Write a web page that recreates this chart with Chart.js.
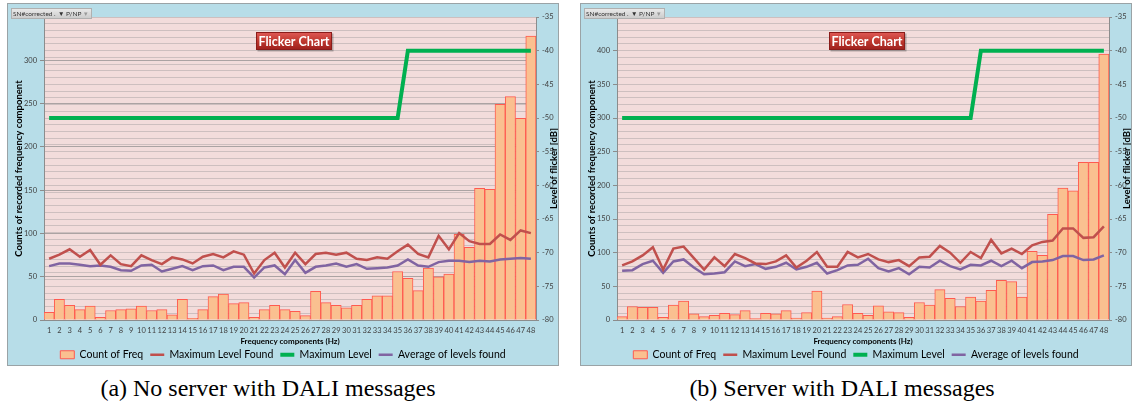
<!DOCTYPE html>
<html>
<head>
<meta charset="utf-8">
<script src="https://cdn.jsdelivr.net/npm/chart.js@4"></script>
<style>
  body { margin: 0; background: #fff; width: 1132px; height: 410px; position: relative; overflow: hidden; }
  .box { position: absolute; top: 4px; width: 550px; height: 361px; background: #b7dde8; outline: 1px solid #9aa3a6; }
  canvas { position: absolute; top: 4px; }
  .cap { position: absolute; top: 376px; font-family: "Liberation Serif", serif; font-size: 24px; line-height: 1; white-space: nowrap; transform: translateX(-50%); }
</style>
</head>
<body>
<div class="box" style="left:8px"></div>
<div class="box" style="left:581px"></div>
<canvas id="chartA" width="550" height="366" style="left:8px"></canvas>
<canvas id="chartB" width="550" height="366" style="left:581px"></canvas>
<div class="cap" style="left:268px">(a) No server with DALI messages</div>
<div class="cap" style="left:842px">(b) Server with DALI messages</div>
<script>
const freqLabels = ["1","2","3","4","5","6","7","8","9","10","11","12","13","14","15","16","17","18","19","20","21","22","23","24",
  "25","26","27","28","29","30","31","32","33","34","35","36","37","38","39","40","41","42","43","44","45","46","47","48"];

// limit line, same in both charts (dB)
const maxLevel = [-50,-50,-50,-50,-50,-50,-50,-50,-50,-50,-50,-50,-50,-50,-50,-50,-50,-50,-50,-50,-50,-50,-50,-50,
  -50,-50,-50,-50,-50,-50,-50,-50,-50,-50,-50,-40,-40,-40,-40,-40,-40,-40,-40,-40,-40,-40,-40,-40];

// (a) no server
const countA = [9,24,17,12,16,3,11,12,13,16,11,12,6,24,2,12,27,30,19,20,3,12,17,
  12,10,5,33,20,17,14,17,24,28,28,56,48,34,60,50,53,99,84,152,151,249,258,233,328];
const maxFoundA = [-70.9,-70.3,-69.5,-70.6,-69.6,-71.8,-70.4,-71.7,-72.0,-70.4,-71.1,-71.7,-70.7,-71.0,-71.6,-70.6,-70.2,-70.7,-69.8,-70.3,-73.1,-71.1,-70.0,
  -72.2,-70.0,-71.7,-70.2,-70.0,-70.3,-70.0,-70.9,-71.1,-70.7,-70.9,-69.8,-68.8,-70.2,-70.7,-67.5,-69.5,-67.1,-68.3,-68.7,-68.7,-67.3,-68.1,-66.7,-67.1];
const avgA = [-72.0,-71.6,-71.6,-71.8,-72.0,-71.9,-72.1,-72.6,-72.7,-71.9,-71.8,-72.8,-72.4,-72.0,-72.6,-72.0,-71.9,-72.6,-72.1,-72.1,-73.7,-72.2,-71.9,
  -73.2,-71.1,-73.0,-72.1,-71.9,-71.6,-72.1,-71.7,-72.4,-72.3,-72.2,-71.9,-71.0,-71.9,-72.1,-71.4,-71.2,-71.2,-71.4,-71.2,-71.3,-71.0,-70.9,-70.8,-70.9];

// (b) server with DALI messages
const countB = [5,20,19,19,4,22,28,9,5,7,10,8,14,2,10,9,14,3,11,43,3,5,23,
  10,7,21,12,11,4,26,22,45,32,20,34,28,44,59,57,34,102,96,157,196,192,234,234,395];
const maxFoundB = [-71.9,-71.3,-70.4,-69.2,-72.5,-69.4,-69.1,-70.8,-72.5,-70.7,-72.0,-70.2,-70.8,-71.6,-71.7,-71.3,-70.4,-72.2,-71.2,-69.9,-72.1,-72.1,-69.9,
  -70.7,-70.2,-71.0,-71.4,-71.1,-72.0,-70.7,-70.6,-69.0,-70.0,-71.5,-69.9,-70.8,-68.1,-70.1,-69.4,-70.2,-68.9,-68.4,-68.2,-66.4,-66.4,-67.8,-67.7,-66.1];
const avgB = [-72.7,-72.6,-71.7,-71.2,-73.0,-71.3,-71.0,-72.2,-73.2,-73.1,-72.9,-71.3,-72.0,-71.7,-72.4,-72.1,-71.5,-72.5,-72.1,-71.5,-73.1,-72.6,-71.9,
  -71.8,-70.9,-72.3,-72.8,-72.3,-73.2,-72.1,-72.2,-71.2,-72.0,-72.5,-71.8,-71.9,-71.2,-72.0,-71.2,-72.3,-71.4,-71.3,-71.1,-70.5,-70.5,-71.1,-71.0,-70.4];

const FONT = "Lato";

// pink plot area, right axis title, "Flicker Chart" badge, filter button
const decor = {
  id: "decor",
  beforeDraw(chart) {
    const { ctx, chartArea: a } = chart;
    ctx.save();
    ctx.fillStyle = "#f2dcdb";
    ctx.fillRect(a.left, a.top, a.right - a.left, a.bottom - a.top);
    ctx.restore();
  },
  afterDraw(chart) {
    const { ctx, chartArea: a } = chart;
    ctx.save();
    ctx.translate(a.right + 18, (a.top + a.bottom) / 2);
    ctx.rotate(-Math.PI / 2);
    ctx.font = `bold 9.5px ${FONT}`;
    ctx.fillStyle = "#000";
    ctx.textAlign = "center";
    ctx.textBaseline = "middle";
    ctx.fillText("Level of flicker [dB]", 0, 0);
    ctx.restore();

    // badge
    const cx = (a.left + a.right) / 2 + 4;
    const bx = cx - 38, by = 28, bw = 76, bh = 18;
    ctx.save();
    ctx.fillStyle = "rgba(0,0,0,0.25)";
    ctx.fillRect(bx + 1.5, by + 1.5, bw, bh);
    const g = ctx.createLinearGradient(0, by, 0, by + bh);
    g.addColorStop(0, "#e05a57");
    g.addColorStop(0.5, "#c0392f");
    g.addColorStop(1, "#9c1f1c");
    ctx.fillStyle = g;
    ctx.fillRect(bx, by, bw, bh);
    ctx.strokeStyle = "#8a1c1a";
    ctx.lineWidth = 1;
    ctx.strokeRect(bx + 0.5, by + 0.5, bw - 1, bh - 1);
    ctx.font = `bold 12.5px ${FONT}`;
    ctx.fillStyle = "#fff";
    ctx.textAlign = "center";
    ctx.textBaseline = "middle";
    ctx.fillText("Flicker Chart", cx, by + bh / 2 + 0.5);
    ctx.restore();

    // filter button
    ctx.save();
    const fg = ctx.createLinearGradient(0, 4, 0, 15);
    fg.addColorStop(0, "#ececec");
    fg.addColorStop(1, "#c9c9c9");
    ctx.fillStyle = fg;
    ctx.fillRect(3, 4, 81, 11);
    ctx.strokeStyle = "#b0b0b0";
    ctx.strokeRect(3.5, 4.5, 80, 10);
    ctx.font = `6.5px ${FONT}`;
    ctx.fillStyle = "#333";
    ctx.textBaseline = "middle";
    ctx.fillText("SN#corrected", 5, 10);
    ctx.fillText(".", 46, 10);
    ctx.fillText("▼", 50, 10);
    ctx.fillText("P/NP", 58, 10);
    ctx.fillStyle = "#999";
    ctx.fillText("▾", 76, 10);
    ctx.restore();
  }
};

const makeChart = (id, counts, maxFound, avg, countMax) => {
  const ctx = document.getElementById(id);
  return new Chart(ctx, {
    type: "bar",
    data: {
      labels: freqLabels,
      datasets: [
        {
          label: "Count of Freq",
          data: counts,
          yAxisID: "y",
          backgroundColor: "#fac090",
          borderColor: "#ff5a50",
          borderWidth: 1,
          barPercentage: 1,
          categoryPercentage: 1,
          pointStyle: "rect",
          order: 1,
        },
        {
          type: "line",
          label: "Maximum Level Found",
          data: maxFound,
          yAxisID: "y1",
          borderColor: "#c0504d",
          backgroundColor: "#c0504d",
          borderWidth: 2.5,
          pointRadius: 0,
          pointStyle: "line",
          tension: 0,
          order: 0,
        },
        {
          type: "line",
          label: "Maximum Level",
          data: maxLevel,
          yAxisID: "y1",
          borderColor: "#00b050",
          backgroundColor: "#00b050",
          borderWidth: 4,
          pointRadius: 0,
          pointStyle: "line",
          tension: 0,
          order: 0,
        },
        {
          type: "line",
          label: "Average of levels found",
          data: avg,
          yAxisID: "y1",
          borderColor: "#8064a2",
          backgroundColor: "#8064a2",
          borderWidth: 2.5,
          pointRadius: 0,
          pointStyle: "line",
          tension: 0,
          order: 0,
        },
      ],
    },
    options: {
      responsive: false,
      animation: false,
      layout: { padding: { top: 13, left: 0, right: 0, bottom: 0 } },
      plugins: {
        legend: {
          position: "bottom",
          labels: {
            usePointStyle: true,
            pointStyleWidth: 14,
            boxHeight: 8,
            padding: 7,
            color: "#000",
            font: { family: FONT, size: 10.5 },
            sort: (a, b) => a.datasetIndex - b.datasetIndex,
          },
        },
        tooltip: { enabled: false },
      },
      scales: {
        x: {
          grid: { display: false, drawTicks: false },
          border: { display: true, color: "#8c8c8c" },
          ticks: { autoSkip: false, maxRotation: 0, padding: 6, color: "#404040", font: { family: FONT, size: 7.5 } },
          title: {
            display: true,
            text: "Frequency components (Hz)",
            color: "#000",
            font: { family: FONT, size: 8, weight: "bold", lineHeight: 1 },
            padding: { top: 0, bottom: -2.5 },
          },
          afterFit: (s) => { s.height = 22.5; },
        },
        y: {
          position: "left",
          min: 0,
          max: countMax,
          ticks: { stepSize: 50, padding: 3, color: "#404040", font: { family: FONT, size: 7.5 } },
          grid: { color: "#aba3a3", tickLength: 4, tickColor: "#8c8c8c" },
          border: { color: "#8c8c8c" },
          title: {
            display: true,
            text: "Counts of recorded frequency component",
            color: "#000",
            font: { family: FONT, size: 9.5, weight: "bold" },
            padding: { top: 5, bottom: 0 },
          },
          afterFit: (s) => { s.width = 36; },
        },
        y1: {
          position: "right",
          min: -80,
          max: -35,
          ticks: {
            stepSize: 1,
            autoSkip: false,
            padding: 3,
            color: "#404040",
            font: { family: FONT, size: 7.5 },
            callback: (v) => (v % 5 === 0 ? v : ""),
          },
          grid: {
            color: "#cdbfbf",
            tickLength: 3,
            tickColor: (c) => (c.tick && c.tick.value % 5 === 0 ? "#8c8c8c" : "rgba(0,0,0,0)"),
          },
          border: { color: "#8c8c8c" },
          afterFit: (s) => { s.width = 22; },
        },
      },
    },
    plugins: [decor],
  });
};

makeChart("chartA", countA, maxFoundA, avgA, 350);
makeChart("chartB", countB, maxFoundB, avgB, 450);
</script>
</body>
</html>
